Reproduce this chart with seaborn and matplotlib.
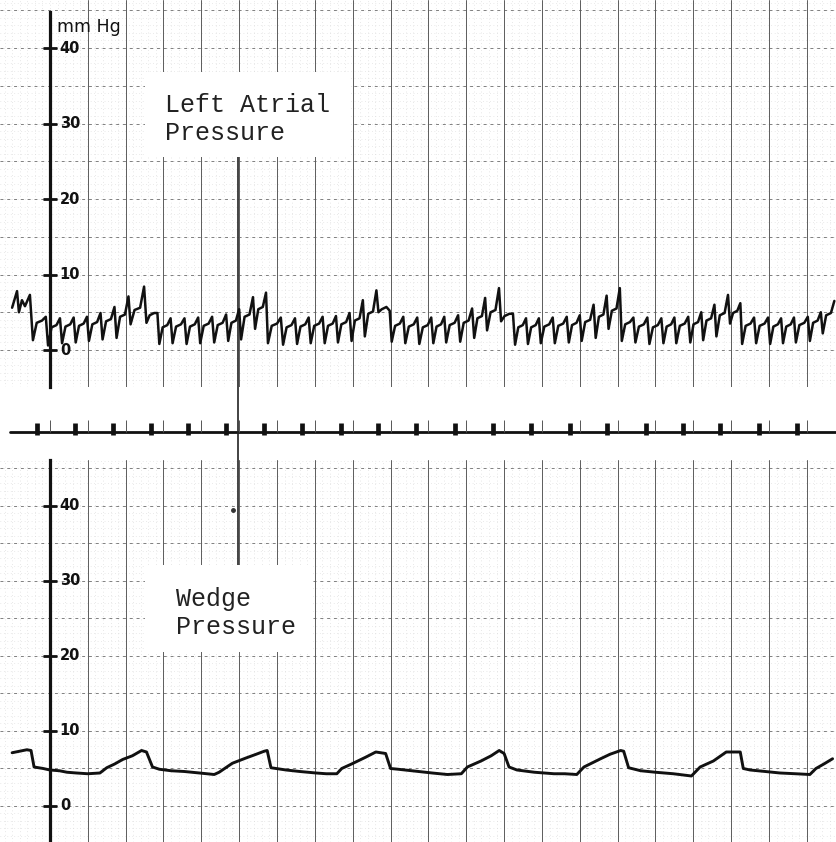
import numpy as np
import pandas as pd
import seaborn as sns
import matplotlib
import matplotlib.pyplot as plt
from matplotlib.patches import Rectangle

matplotlib.use('Agg')

# time in seconds (one heavy grid line = 1 s), pressure in mm Hg
la_lead_t = [-1.00, -0.87, -0.82, -0.74, -0.66, -0.53]
la_lead_v = [5.6, 7.8, 5.0, 6.6, 5.8, 7.3]

# left atrial beats: time of each downstroke, and trough / mid / peak level
la_beat_t = [-0.45, -0.05, 0.32, 0.68, 1.03, 1.39, 1.76, 2.13, 2.55, 2.89,
             3.24, 3.61, 3.97, 4.34, 4.71, 5.05, 5.42, 5.76, 6.16, 6.53,
             6.89, 7.26, 7.61, 7.97, 8.32, 8.68, 9.03, 9.39, 9.76, 10.13,
             10.47, 10.84, 11.21, 11.55, 11.92, 12.29, 12.63, 12.97, 13.34, 13.71,
             14.05, 14.42, 14.76, 15.11, 15.47, 15.84, 16.21, 16.55, 16.92, 17.26,
             17.61, 17.97, 18.29, 18.66, 19.03, 19.37, 19.71, 20.08, 20.42]
la_trough = [1.3, 0.6, 0.9, 1.0, 1.2, 1.4, 1.6, 3.4, 3.6, 0.8,
             0.9, 0.8, 0.9, 1.0, 1.2, 1.4, 2.8, 0.9, 0.7, 0.8,
             0.9, 0.9, 1.0, 1.2, 1.8, 5.0, 1.1, 0.9, 0.8, 0.9,
             1.0, 1.1, 1.6, 2.6, 3.8, 0.7, 0.8, 0.9, 0.9, 1.0,
             1.2, 1.6, 2.8, 1.2, 1.0, 0.8, 0.9, 0.9, 1.0, 1.3,
             1.8, 3.5, 0.8, 0.9, 0.8, 0.9, 1.0, 1.2, 2.2]
la_mid = [3.6, 3.0, 3.1, 3.2, 3.4, 3.8, 4.4, 5.3, 4.6, 3.0,
          3.1, 3.1, 3.2, 3.3, 3.6, 4.4, 5.4, 3.2, 3.0, 3.1,
          3.2, 3.2, 3.4, 3.9, 4.8, 5.4, 3.2, 3.1, 3.0, 3.1,
          3.3, 3.6, 4.2, 5.0, 4.5, 3.0, 3.0, 3.1, 3.2, 3.3,
          3.7, 4.4, 5.2, 3.4, 3.1, 3.0, 3.1, 3.2, 3.4, 3.9,
          4.6, 4.9, 3.2, 3.2, 3.1, 3.1, 3.3, 3.6, 4.6]
la_peak = [4.4, 4.2, 4.3, 4.4, 4.9, 5.7, 7.1, 8.4, 4.9, 4.2,
           4.2, 4.3, 4.4, 4.7, 5.4, 7.0, 7.6, 4.3, 4.2, 4.3,
           4.4, 4.5, 4.9, 6.6, 7.9, 5.2, 4.4, 4.3, 4.3, 4.4,
           4.6, 5.5, 6.9, 8.2, 4.8, 4.2, 4.2, 4.3, 4.4, 4.6,
           6.0, 7.2, 8.2, 4.3, 4.3, 4.2, 4.3, 4.4, 5.0, 6.0,
           7.3, 6.2, 4.3, 4.3, 4.2, 4.3, 4.4, 5.0, 6.5]

wedge_t = [-1.00, -0.61, -0.50, -0.42, -0.30, -0.18, 0.00, 0.25, 0.45, 0.70,
           1.00, 1.32, 1.50, 1.71, 1.92, 2.18, 2.42, 2.55, 2.71, 2.89,
           3.20, 3.55, 3.95, 4.34, 4.47, 4.82, 5.18, 5.45, 5.66, 5.74,
           5.84, 6.24, 6.60, 7.03, 7.30, 7.58, 7.71, 7.97, 8.34, 8.61,
           8.87, 9.00, 9.20, 9.74, 10.10, 10.50, 10.87, 11.03, 11.39, 11.66,
           11.87, 12.00, 12.13, 12.34, 12.80, 13.32, 13.60, 13.92, 14.11, 14.55,
           14.80, 15.08, 15.16, 15.29, 15.61, 16.00, 16.47, 16.95, 17.18, 17.53,
           17.87, 18.05, 18.24, 18.32, 18.50, 18.90, 19.29, 19.70, 20.08, 20.24,
           20.45, 20.68]
wedge_v = [7.1, 7.5, 7.4, 5.2, 5.1, 5.0, 4.8, 4.7, 4.5, 4.4,
           4.3, 4.4, 5.1, 5.6, 6.2, 6.7, 7.4, 7.2, 5.2, 4.9,
           4.7, 4.6, 4.4, 4.2, 4.5, 5.7, 6.4, 6.9, 7.3, 7.4,
           5.1, 4.8, 4.6, 4.4, 4.3, 4.3, 5.0, 5.6, 6.5, 7.2,
           7.0, 5.0, 4.9, 4.6, 4.4, 4.2, 4.3, 5.2, 6.0, 6.7,
           7.4, 7.0, 5.2, 4.8, 4.5, 4.3, 4.3, 4.2, 5.2, 6.3,
           6.9, 7.4, 7.3, 5.1, 4.7, 4.5, 4.3, 4.0, 5.2, 6.0,
           7.2, 7.2, 7.2, 5.0, 4.8, 4.6, 4.4, 4.3, 4.2, 5.0,
           5.6, 6.3]

# timing marks on the event channel
marker_t = [-0.34, 0.66, 1.66, 2.66, 3.66, 4.66, 5.66, 6.66, 7.68, 8.68,
            9.68, 10.71, 11.71, 12.71, 13.74, 14.71, 15.74, 16.74, 17.71, 18.74, 19.74]

tick_vals = [0, 10, 20, 30, 40]
unit_label = 'mm Hg'
la_label = 'Left Atrial\nPressure'
wedge_label = 'Wedge\nPressure'
cursor_t = 4.97

XLIM = (-1.32, 20.77)
INK = '#111111'


def la_frame():
    ts, vs = list(la_lead_t), list(la_lead_v)
    nxt = la_beat_t[1:] + [la_beat_t[-1] + 0.36]
    for t, t2, tr, md, pk in zip(la_beat_t, nxt, la_trough, la_mid, la_peak):
        p = t2 - t
        ts += [t, t + 0.25 * p, t + 0.6 * p, t + 0.85 * p]
        vs += [tr, md, md + 0.3, pk]
    return pd.DataFrame({'t': ts, 'mmHg': vs})


def paper(ax):
    for t in np.arange(-1.2, 20.8, 0.2):
        ax.axvline(t, color='#d2d2d2', lw=0.5, ls=(0, (1, 4)), zorder=0)
    for v in range(-4, 47):
        ax.axhline(v, color='#d6d6d6', lw=0.5, ls=(0, (1, 4)), zorder=0)
    for v in range(-5, 47, 5):
        ax.axhline(v, color='#808080', lw=0.7, ls=(0, (3, 4)), zorder=0.5)
    for t in range(1, 21):
        ax.axvline(t, color='#5c5c5c', lw=0.7, zorder=0.6)


def pressure_axis(ax, top):
    ax.set_xlim(*XLIM)
    sp = ax.spines['left']
    sp.set_position(('data', 0))
    sp.set_bounds(ax.get_ylim()[0], top)
    sp.set_linewidth(2.3)
    sp.set_color(INK)
    sp.set_zorder(5)
    for s in ['top', 'right', 'bottom']:
        ax.spines[s].set_visible(False)
    ax.set_xticks([])
    ax.set_yticks(tick_vals)
    ax.tick_params(axis='y', left=True, direction='inout', length=10, width=2,
                   color=INK, labelleft=False)
    ax.set_xlabel('')
    ax.set_ylabel('')
    for v in tick_vals:
        ax.text(0.26, v, str(v), fontsize=10.5, fontweight='bold', color=INK,
                va='center', ha='left', zorder=6)


sns.set_style('white')
plt.rcParams['font.family'] = ['DejaVu Sans']

fig = plt.figure(figsize=(8.36, 8.42), dpi=100)
ax_top = fig.add_axes([0, 455 / 842, 1, 387 / 842])
ax_mid = fig.add_axes([0, 382 / 842, 1, 73 / 842])
ax_bot = fig.add_axes([0, 0, 1, 382 / 842])

# top panel: left atrial pressure
ax_top.set_ylim(-4.9, 46.36)
paper(ax_top)
sns.lineplot(data=la_frame(), x='t', y='mmHg', ax=ax_top, color=INK, lw=1.8,
             estimator=None, sort=False, zorder=4)
pressure_axis(ax_top, 44.8)
ax_top.add_patch(Rectangle((2.5, 25.5), 5.45, 11.3, fc='white', ec='none', zorder=2))
ax_top.text(3.03, 30.6, la_label, fontsize=18, family='Liberation Mono',
            color='#222222', va='center', ha='left', linespacing=1.2, zorder=3)
ax_top.text(0.18, 42.1, unit_label, fontsize=12.5, color=INK, va='baseline',
            ha='left', zorder=6)
ax_top.vlines(cursor_t, -4.9, 25.5, color='#222222', lw=1.2, zorder=3)

# event channel
ax_mid.set_xlim(*XLIM)
ax_mid.set_ylim(-28, 45)
ax_mid.axis('off')
ax_mid.axhline(0, xmin=0.012, color=INK, lw=2.0)
ax_mid.vlines(range(0, 21), 0, 12, color='#555555', lw=0.7)
ax_mid.vlines(marker_t, -3, 9, color=INK, lw=3.4)
ax_mid.axvline(cursor_t, color='#222222', lw=1.2)

# bottom panel: wedge pressure
ax_bot.set_ylim(-4.8, 46.13)
paper(ax_bot)
wedge = pd.DataFrame({'t': wedge_t, 'mmHg': wedge_v})
sns.lineplot(data=wedge, x='t', y='mmHg', ax=ax_bot, color=INK, lw=2.1,
             estimator=None, sort=False, zorder=4)
pressure_axis(ax_bot, 46.13)
ax_bot.add_patch(Rectangle((2.5, 20.5), 4.45, 11.6, fc='white', ec='none', zorder=2))
ax_bot.text(3.32, 25.7, wedge_label, fontsize=18, family='Liberation Mono',
            color='#222222', va='center', ha='left', linespacing=1.2, zorder=3)
ax_bot.vlines(cursor_t, 32.1, 46.13, color='#222222', lw=1.2, zorder=3)
ax_bot.plot([4.84], [39.5], 'o', ms=2.5, color='#333333', zorder=3)

fig.savefig('out.png', dpi=100)
